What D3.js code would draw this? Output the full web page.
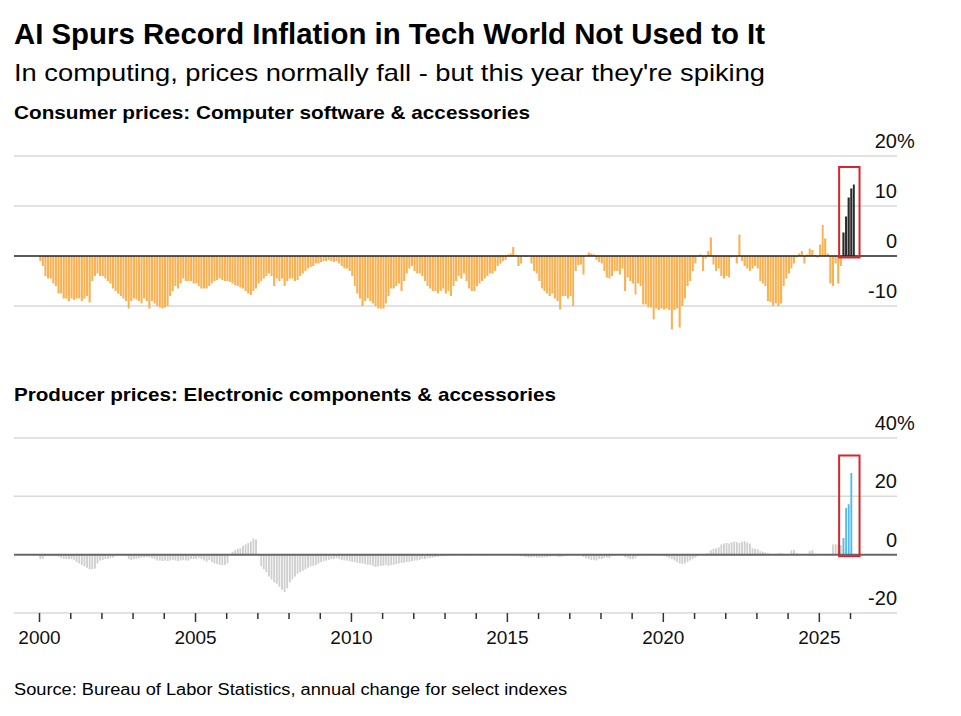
<!DOCTYPE html>
<html>
<head>
<meta charset="utf-8">
<script src="https://cdn.jsdelivr.net/npm/d3@7"></script>
<style>
  body { margin: 0; background: #fff; }
  svg { display: block; font-family: "Liberation Sans", Arial, sans-serif; }
</style>
</head>
<body>
<div id="chart"></div>
<script>
// Consumer prices: computer software & accessories, annual % change, monthly from Jan 2000
const cpi2000 = [-1, -2, -4, -4.5, -4.5, -5.5, -6, -7.5, -7.5, -8.5, -8.5, -9];
const cpi2001 = [-8.5, -8.8, -8.5, -8.5, -9, -8.5, -8, -9.3, -5, -4, -3.5, -4];
const cpi2002 = [-4, -4.5, -5, -5.5, -6.5, -7, -7.5, -8, -8.5, -9, -10.5, -9];
const cpi2003 = [-8.5, -8.7, -9, -9.5, -8.5, -9, -10.5, -9, -9.5, -10, -10.3, -10.5];
const cpi2004 = [-10.3, -10, -8, -7, -6, -6.5, -5.5, -4.5, -5, -5, -5, -5.5];
const cpi2005 = [-5.5, -6, -6.5, -6.5, -6.5, -6, -5.5, -5, -4.8, -4.5, -4.8, -5];
const cpi2006 = [-5, -5.2, -5.5, -5.8, -6, -6.3, -6.5, -7, -7.5, -7.8, -7, -6.5];
const cpi2007 = [-5.5, -5, -4.5, -4, -3.5, -4, -6, -4.5, -5, -4.5, -6, -5];
const cpi2008 = [-4.5, -4.5, -5, -4.8, -4, -3.5, -3, -2.5, -2.2, -2, -1.5, -1.5];
const cpi2009 = [-1.2, -1, -1, -0.8, -1, -1.2, -1, -1.5, -2, -2.5, -2.5, -3];
const cpi2010 = [-4, -6, -7.5, -8.5, -10, -9, -8.5, -9, -9.5, -10, -10.5, -10.5];
const cpi2011 = [-10.5, -9.5, -8, -6.5, -6.5, -6, -5.5, -7, -5, -3.5, -2.5, -2];
const cpi2012 = [-3, -3.5, -3.5, -4, -5, -6, -6.5, -7, -7, -7.5, -7, -6.5];
const cpi2013 = [-7.5, -7, -8, -6, -5, -4, -4.5, -3.5, -5, -6.5, -7, -7];
const cpi2014 = [-6, -5.5, -5, -4.5, -4, -3.5, -3.5, -3, -2, -1.5, -1, -0.8];
const cpi2015 = [0.3, 0.5, 1.8, 0.2, -2, -1.5, 0.1, -0.2, 0, -1.5, -3, -3.5];
const cpi2016 = [-5, -6.5, -7, -7.5, -8, -7.5, -8.5, -9, -10.7, -8, -8, -8.5];
const cpi2017 = [-8, -10, -3, -1.8, -1.7, -3.7, 0, 0.7, 0.5, 0.3, -0.8, -1.2];
const cpi2018 = [-1.5, -3, -4.3, -4.5, -4, -3, -3, -3.7, -2.5, -7, -4.3, -5];
const cpi2019 = [-5.5, -7.7, -5.5, -6, -9.7, -9.7, -10.3, -10.3, -12.7, -10.5, -10.8, -10.5];
const cpi2020 = [-10.7, -10.5, -10.8, -14.7, -10.8, -10.5, -14.3, -10, -8.5, -6, -5, -3];
const cpi2021 = [-1.5, -0.2, 0.3, -3, -0.5, 1, 3.7, -1.7, -3, -2.5, -4, -4.5];
const cpi2022 = [-4, -4.3, -0.3, -0.2, -1.5, 4.3, -1, -2, -2.5, -3, -2.5, -2];
const cpi2023 = [-2.5, -5, -5.5, -6, -9, -9.2, -10, -9.5, -10, -9.5, -6, -4.5];
const cpi2024 = [-3.5, -2.5, -1.5, -0.3, 0.5, 1, -1.5, 0.3, 1.5, 1.2, 0.2, -0.3];
const cpi2025 = [2.3, 6.2, 3.5, 0.5, -5.5, -6, -1.5, -5.5, -2, 4.7, 7.9, 11.7];
const cpi2026 = [13.5, 14.3];

// Producer prices: electronic components & accessories, annual % change
const ppi2000 = [-1.5, -1.5, -0.5, -0.3, -0.5, -0.5, -0.5, -0.7, -1.2, -1.5, -1.5, -1.5];
const ppi2001 = [-1.5, -1.8, -2.5, -3, -3.5, -4, -4.5, -5, -5, -4.8, -3, -2];
const ppi2002 = [-1.8, -1.5, -1.5, -1.2, -1, -0.5, 0, -0.2, 0, -0.3, -1.5, -1.8];
const ppi2003 = [-1.5, -1.5, -1.2, -1, -1, -0.8, -1, -1.2, -1.5, -2, -2, -2.2];
const ppi2004 = [-2, -2.2, -2, -1.8, -2, -2.2, -2, -1.8, -2, -2, -1.5, -1.5];
const ppi2005 = [-1.5, -1.2, -1.5, -2, -2.4, -1.8, -2.5, -3, -3.2, -3.5, -3.6, -3.5];
const ppi2006 = [-3, -0.2, 1, 1.5, 2, 2.2, 3, 3.5, 4, 4.5, 5.6, 5.2];
const ppi2007 = [-0.5, -4, -5, -6, -7.5, -8.5, -9.5, -10, -11, -12, -12.8, -11.5];
const ppi2008 = [-9.5, -8.5, -7.5, -6.5, -6, -5.5, -5, -4.5, -4, -3.8, -3.5, -3];
const ppi2009 = [-2.5, -2.2, -2, -1.8, -1.5, -1.5, -1.2, -1.5, -1.8, -2, -2, -2.2];
const ppi2010 = [-2.5, -2.5, -2.8, -3, -3, -3.2, -3.5, -3.5, -3.8, -4.2, -4, -3.8];
const ppi2011 = [-3.8, -3.5, -3.8, -3.5, -3.5, -3.2, -3, -2.8, -2.8, -2.5, -2.5, -2.2];
const ppi2012 = [-2, -2, -1.8, -1.5, -1.5, -1.2, -1.2, -1, -0.8, -0.7, -0.5, -0.5];
const ppi2013 = [-0.3, 0, 0.2, 0.3, 0.1, -0.1, 0, 0.2, 0.3, 0.2, 0, 0.1];
const ppi2014 = [0.2, 0.1, -0.2, 0, 0.3, 0.2, 0.1, -0.1, 0, 0.2, 0.1, 0];
const ppi2015 = [-0.1, 0.2, 0, 0.1, -0.2, -0.5, -0.6, -0.8, -0.9, -1, -0.8, -1];
const ppi2016 = [-1, -1, -0.9, -0.8, -0.7, -0.6, -0.5, -0.7, -0.8, -0.6, -0.5, -0.3];
const ppi2017 = [0, 0.1, -0.1, 0, 0.2, -0.8, -1.2, -1.5, -1.8, -1.8, -2, -1.5];
const ppi2018 = [-1.5, -1.2, -1, -1.2, -0.5, 0, 0.1, -0.1, 0.2, -0.8, -1.2, -1.5];
const ppi2019 = [-1.5, -1.2, -0.5, 0.2, 0.3, 0.1, 0.3, 0.2, 0, 0.1, -0.2, -0.3];
const ppi2020 = [-0.5, -0.8, -1.2, -1.5, -2, -2.5, -3, -3.2, -3, -2.5, -2, -1.5];
const ppi2021 = [-1, -0.5, 0, 0, 0.2, 0.5, 1.5, 2, 2.2, 2.5, 3.5, 3.8];
const ppi2022 = [4, 3.8, 4.2, 4.5, 4.3, 4, 4.4, 4.6, 4.2, 3.8, 2.2, 2];
const ppi2023 = [1.8, 1.2, 1, 0.8, 0.5, 0.3, 0.2, 0, 0.4, 0.5, 0.3, 0.2];
const ppi2024 = [0.3, 1.5, 1.6, 0.5, 0.2, 0, 0.1, 0, 1.2, 1.5, 0.3, 0];
const ppi2025 = [0.2, 0.1, 0, -0.1, 0.2, 3.5, 3.6, 3.4, 3.2, 5.7, 16, 17.3];
const ppi2026 = [28];

const topTicks = [20, 10, 0, -10];
const bottomTicks = [40, 20, 0, -20];
const labelYears = [2000, 2005, 2010, 2015, 2020, 2025];
const highlightFrom = new Date(Date.UTC(2025, 9, 1)); // Oct 2025

const width = 961;
const height = 716;
const svg = d3.select("#chart").append("svg")
    .attr("width", width)
    .attr("height", height);

// turn the per-year arrays into one monthly series
function toMonthly(years) {
    return years.flat().map((v, i) => ({
        date: new Date(Date.UTC(2000 + Math.floor(i / 12), i % 12, 1)),
        value: v
    }));
}

const cpiData = toMonthly([cpi2000, cpi2001, cpi2002, cpi2003, cpi2004, cpi2005, cpi2006, cpi2007, cpi2008,
    cpi2009, cpi2010, cpi2011, cpi2012, cpi2013, cpi2014, cpi2015, cpi2016, cpi2017, cpi2018, cpi2019,
    cpi2020, cpi2021, cpi2022, cpi2023, cpi2024, cpi2025, cpi2026]);
const ppiData = toMonthly([ppi2000, ppi2001, ppi2002, ppi2003, ppi2004, ppi2005, ppi2006, ppi2007, ppi2008,
    ppi2009, ppi2010, ppi2011, ppi2012, ppi2013, ppi2014, ppi2015, ppi2016, ppi2017, ppi2018, ppi2019,
    ppi2020, ppi2021, ppi2022, ppi2023, ppi2024, ppi2025, ppi2026]);

const gridLeft = 14;
const gridRight = 897;

const x = d3.scaleUtc()
    .domain([new Date(Date.UTC(2000, 0, 1)), new Date(Date.UTC(2026, 0, 1))])
    .range([39, 850]);
const yTop = d3.scaleLinear().domain([-10, 20]).range([306, 156]);
const yBot = d3.scaleLinear().domain([-20, 40]).range([613, 438]);

// texts, squeezed to the widths of the condensed original font
function addText(str, xPos, yPos, size, weight, fitWidth) {
    const t = svg.append("text")
        .attr("x", xPos)
        .attr("y", yPos)
        .attr("font-size", size)
        .attr("font-weight", weight)
        .attr("fill", "#000")
        .text(str);
    if (fitWidth) t.attr("textLength", fitWidth).attr("lengthAdjust", "spacingAndGlyphs");
    return t;
}

addText("AI Spurs Record Inflation in Tech World Not Used to It", 14, 44, 29, "bold", 751);
addText("In computing, prices normally fall - but this year they're spiking", 14, 81, 24, "normal", 751);
addText("Consumer prices: Computer software & accessories", 14, 119, 19, "bold", 516);
addText("Producer prices: Electronic components & accessories", 14, 401, 19, "bold", 542);
addText("Source: Bureau of Labor Statistics, annual change for select indexes", 14, 695, 16, "normal", 553);

function drawPanel(data, y, ticks, baseColor, hiColor, zeroColor, zeroWidth, barGap) {
    const g = svg.append("g");

    // gridlines (zero line drawn later, on top of bars)
    g.selectAll("line.grid")
        .data(ticks.filter(t => t !== 0))
        .join("line")
        .attr("x1", gridLeft)
        .attr("x2", gridRight)
        .attr("y1", d => y(d))
        .attr("y2", d => y(d))
        .attr("stroke", "#d9d9d9")
        .attr("stroke-width", 1.5);

    // tick labels on the right, "%" only on the top one
    g.selectAll("text.val")
        .data(ticks)
        .join("text")
        .attr("x", gridRight)
        .attr("y", d => y(d) - 8)
        .attr("text-anchor", "end")
        .attr("font-size", 20)
        .attr("fill", "#111")
        .text(d => d);
    g.append("text")
        .attr("x", gridRight)
        .attr("y", y(ticks[0]) - 8)
        .attr("font-size", 20)
        .attr("fill", "#111")
        .text("%");

    // monthly bars
    g.selectAll("rect.bar")
        .data(data)
        .join("rect")
        .attr("x", d => x(d.date) + barGap / 2)
        .attr("width", d => x(d3.utcMonth.offset(d.date, 1)) - x(d.date) - barGap)
        .attr("y", d => y(Math.max(0, d.value)))
        .attr("height", d => Math.abs(y(d.value) - y(0)))
        .attr("fill", d => d.date >= highlightFrom ? hiColor : baseColor);

    g.append("line")
        .attr("x1", gridLeft)
        .attr("x2", gridRight)
        .attr("y1", y(0))
        .attr("y2", y(0))
        .attr("stroke", zeroColor)
        .attr("stroke-width", zeroWidth);

    // red box around the recent spike
    const hi = data.filter(d => d.date >= highlightFrom);
    const boxX0 = x(highlightFrom) - 3;
    const boxX1 = x(d3.utcMonth.offset(cpiData[cpiData.length - 1].date, 1)) + 4.5;
    const boxTop = y(d3.max(hi, d => d.value)) - 17.5;
    g.append("rect")
        .attr("x", boxX0)
        .attr("y", boxTop)
        .attr("width", boxX1 - boxX0)
        .attr("height", y(0) + 1.5 - boxTop)
        .attr("fill", "none")
        .attr("stroke", "#d7262b")
        .attr("stroke-width", 2);
    return g;
}

drawPanel(cpiData, yTop, topTicks, "#f9b253", "#2a2a2a", "#222", 1.5, 0.5);
drawPanel(ppiData, yBot, bottomTicks, "#cfcfcf", "#52b9ea", "#666", 2, 0.8);

// year axis under the bottom panel
const xAxis = d3.axisBottom(x)
    .ticks(d3.utcYear.every(1))
    .tickSize(6)
    .tickPadding(11.5)
    .tickFormat(d => labelYears.includes(d.getUTCFullYear()) ? d.getUTCFullYear() : "");

const axisG = svg.append("g")
    .attr("transform", `translate(0,${yBot(-20)})`)
    .call(xAxis);
axisG.select(".domain").remove();
axisG.selectAll(".tick line")
    .attr("stroke", "#333")
    .attr("stroke-width", 1.5)
    .attr("y2", d => labelYears.includes(d.getUTCFullYear()) ? 9 : 6);
axisG.selectAll(".tick text")
    .attr("font-size", 19)
    .attr("font-family", "Liberation Sans, Arial, sans-serif")
    .attr("fill", "#111");
</script>
</body>
</html>
